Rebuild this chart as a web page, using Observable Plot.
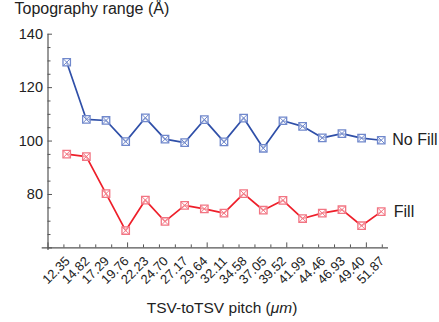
<!DOCTYPE html>
<html>
<head>
<meta charset="utf-8">
<script src="https://cdn.jsdelivr.net/npm/d3@7"></script>
<script src="https://cdn.jsdelivr.net/npm/@observablehq/plot@0.6"></script>
<style>
  html, body { margin: 0; padding: 0; background: #fff; }
  svg { font-family: "Liberation Sans", Arial, Helvetica, sans-serif; }
</style>
</head>
<body>
<div id="chart"></div>
<script>
const pitch = [12.35, 14.82, 17.29, 19.76, 22.23, 24.70, 27.17, 29.64, 32.11, 34.58, 37.05, 39.52, 41.99, 44.46, 46.93, 49.40, 51.87];
const pitchLabels = ["12.35", "14.82", "17.29", "19.76", "22.23", "24.70", "27.17", "29.64", "32.11", "34.58", "37.05", "39.52", "41.99", "44.46", "46.93", "49.40", "51.87"];
const noFill = [129.5, 108.1, 107.7, 99.8, 108.7, 100.7, 99.4, 108.0, 99.7, 108.6, 97.3, 107.6, 105.5, 101.2, 102.8, 101.1, 100.3];
const fill = [95.1, 94.2, 80.3, 66.5, 77.9, 69.9, 75.9, 74.6, 73.0, 80.3, 74.1, 77.8, 71.0, 73.0, 74.3, 68.3, 73.6];
const yTickLabels = [80, 100, 120, 140];
const seriesNames = ["No Fill", "Fill"];

const W = 439, H = 322;
const mL = 47.5, mR = 51, mT = 33.7, mB = 74.6;
const xMin = 10, xMax = 52.78, yMin = 60, yMax = 140;
const pxPerX = (W - mL - mR) / (xMax - xMin);
const pxPerY = (H - mT - mB) / (yMax - yMin);

const blueLine = "#2f4fa8", blueMark = "#7088cc";
const redLine = "#ee1f2a", redMark = "#f27583";

const rows = pitch.map((p, i) => ({p, label: pitchLabels[i], nf: noFill[i], f: fill[i]}));

const xTicks = d3.range(10, 53, 2);
const yTicks = d3.range(60, 141, 5);

const chart = Plot.plot({
  width: W, height: H,
  marginLeft: mL, marginRight: mR, marginTop: mT, marginBottom: mB,
  x: {domain: [xMin, xMax], axis: null},
  y: {domain: [yMin, yMax], axis: null},
  style: {fontFamily: "'Liberation Sans', Arial, Helvetica, sans-serif", background: "white"},
  marks: [
    Plot.ruleY([yMin], {x1: xMin - 5.8 / pxPerX, x2: xMax, stroke: "#555", strokeWidth: 1.2}),
    Plot.ruleX([xMin], {y1: yMin - 2.6 / pxPerY, y2: yMax, stroke: "#555", strokeWidth: 1.2}),
    Plot.ruleX(xTicks, {x: d => d, y1: yMin, y2: d => yMin + (d % 10 === 0 ? 5 : 3) / pxPerY, stroke: "#555", strokeWidth: 1}),
    Plot.ruleY(yTicks, {y: d => d, x1: xMin, x2: d => xMin + (d % 20 === 0 ? 4.5 : 3) / pxPerX, stroke: "#555", strokeWidth: 1}),
    Plot.text(yTickLabels, {x: xMin, y: d => d, text: d => String(d), textAnchor: "end", dx: -5, fontSize: 14.5, fill: "#222"}),
    Plot.text(rows, {x: "p", y: yMin, text: "label", rotate: -45, textAnchor: "end", lineAnchor: "middle", dx: 1, dy: 11, fontSize: 13, fill: "#222"}),
    Plot.line(rows, {x: "p", y: "nf", stroke: blueLine, strokeWidth: 1.7}),
    Plot.line(rows, {x: "p", y: "f", stroke: redLine, strokeWidth: 1.7}),
    Plot.dot(rows, {x: "p", y: "nf", symbol: "square", r: 4.2, fill: "white", fillOpacity: 0.6, stroke: blueMark, strokeWidth: 1.3}),
    Plot.dot(rows, {x: "p", y: "nf", symbol: "times", r: 3.2, stroke: blueMark, strokeWidth: 1}),
    Plot.dot(rows, {x: "p", y: "f", symbol: "square", r: 4.2, fill: "white", fillOpacity: 0.6, stroke: redMark, strokeWidth: 1.3}),
    Plot.dot(rows, {x: "p", y: "f", symbol: "times", r: 3.2, stroke: redMark, strokeWidth: 1}),
    Plot.text([seriesNames[0]], {x: pitch[pitch.length - 1], y: noFill[noFill.length - 1], text: d => d, textAnchor: "start", dx: 11, fontSize: 16, fill: "#222"}),
    Plot.text([seriesNames[1]], {x: pitch[pitch.length - 1], y: fill[fill.length - 1], text: d => d, textAnchor: "start", dx: 12.5, fontSize: 16, fill: "#222"}),
    Plot.text(["Topography range (Å)"], {frameAnchor: "top-left", text: d => d, textAnchor: "start", lineAnchor: "top", dx: 14 - mL, dy: 2 - mT, fontSize: 16, fill: "#222"})
  ]
});

const svg = d3.select(chart);
const t = svg.append("text")
  .attr("x", 222).attr("y", 313)
  .attr("text-anchor", "middle")
  .attr("font-size", 15.5)
  .attr("fill", "#222");
t.append("tspan").text("TSV-toTSV pitch (");
t.append("tspan").attr("font-style", "italic").text("μm");
t.append("tspan").text(")");

document.getElementById("chart").appendChild(chart);
</script>
</body>
</html>
